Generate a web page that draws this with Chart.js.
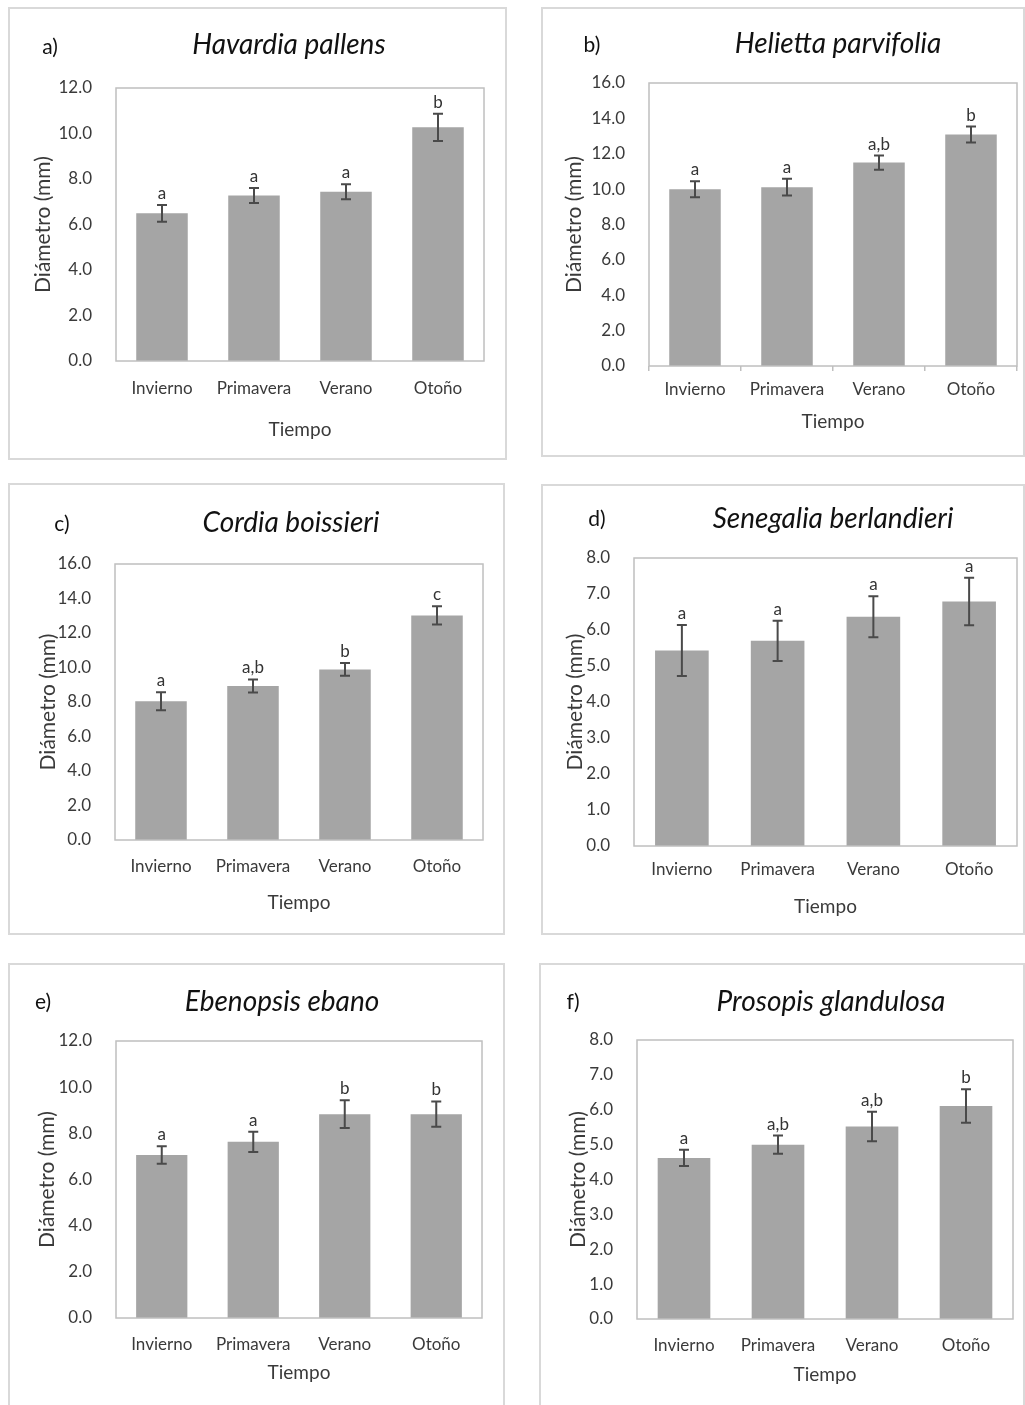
<!DOCTYPE html>
<html>
<head>
<meta charset="utf-8">
<script src="https://cdn.jsdelivr.net/npm/chart.js@4.4.1/dist/chart.umd.min.js"></script>
<style>
  body { margin: 0; width: 1025px; height: 1405px; overflow: hidden; background: #fff; position: relative; font-family: Lato, sans-serif; }
  .frame { position: absolute; border: 2px solid #d9d9d9; box-sizing: border-box; }
  canvas { position: absolute; }
  .tag, .species { position: absolute; transform: translate(-50%, -50%); white-space: nowrap; color: #111; }
  .tag { font-size: 21px; }
  .species { font-size: 28px; font-style: italic; }
</style>
</head>
<body>
<script>
// ── DATA ──────────────────────────────────────────────────────
const seasons = ['Invierno', 'Primavera', 'Verano', 'Otoño'];

const ticks12 = [0, 2, 4, 6, 8, 10, 12];
const ticks16 = [0, 2, 4, 6, 8, 10, 12, 14, 16];
const ticks8  = [0, 1, 2, 3, 4, 5, 6, 7, 8];

const havardiaMeans   = [6.49, 7.27, 7.44, 10.27];
const havardiaErr     = [0.37, 0.33, 0.33, 0.60];
const havardiaLetters = ['a', 'a', 'a', 'b'];

const heliettaMeans   = [9.99, 10.11, 11.50, 13.09];
const heliettaErr     = [0.45, 0.47, 0.40, 0.45];
const heliettaLetters = ['a', 'a', 'a,b', 'b'];

const cordiaMeans   = [8.04, 8.93, 9.89, 13.02];
const cordiaErr     = [0.52, 0.38, 0.37, 0.53];
const cordiaLetters = ['a', 'a,b', 'b', 'c'];

const senegaliaMeans   = [5.43, 5.70, 6.37, 6.79];
const senegaliaErr     = [0.71, 0.56, 0.57, 0.66];
const senegaliaLetters = ['a', 'a', 'a', 'a'];

const ebenopsisMeans   = [7.06, 7.63, 8.83, 8.83];
const ebenopsisErr     = [0.38, 0.44, 0.60, 0.55];
const ebenopsisLetters = ['a', 'a', 'b', 'b'];

const prosopisMeans   = [4.62, 5.00, 5.52, 6.11];
const prosopisErr     = [0.23, 0.26, 0.42, 0.48];
const prosopisLetters = ['a', 'a,b', 'a,b', 'b'];

// ── LAYOUT ────────────────────────────────────────────────────
const panels = [
  { tag: 'a)', name: 'Havardia pallens', means: havardiaMeans, err: havardiaErr, letters: havardiaLetters, ticks: ticks12,
    box: [8, 7, 499, 453], plot: [116, 88, 484, 361], tagAt: [50, 45], nameAt: [289, 43], yTitleX: 43, xTitleY: 430, tickPad: 9 },
  { tag: 'b)', name: 'Helietta parvifolia', means: heliettaMeans, err: heliettaErr, letters: heliettaLetters, ticks: ticks16,
    box: [541, 7, 484, 450], plot: [649, 83, 1017, 366], tagAt: [592, 43], nameAt: [838, 42], yTitleX: 574, xTitleY: 422, tickPad: 8, tickMarks: true },
  { tag: 'c)', name: 'Cordia boissieri', means: cordiaMeans, err: cordiaErr, letters: cordiaLetters, ticks: ticks16,
    box: [8, 483, 497, 452], plot: [115, 564, 483, 840], tagAt: [62, 522], nameAt: [291, 521], yTitleX: 48, xTitleY: 903, tickPad: 8 },
  { tag: 'd)', name: 'Senegalia berlandieri', means: senegaliaMeans, err: senegaliaErr, letters: senegaliaLetters, ticks: ticks8,
    box: [541, 484, 484, 451], plot: [634, 558, 1017, 846], tagAt: [597, 517], nameAt: [833, 517], yTitleX: 575, xTitleY: 907, tickPad: 5 },
  { tag: 'e)', name: 'Ebenopsis ebano', means: ebenopsisMeans, err: ebenopsisErr, letters: ebenopsisLetters, ticks: ticks12,
    box: [8, 963, 497, 460], plot: [116, 1041, 482, 1318], tagAt: [43, 1000], nameAt: [282, 1000], yTitleX: 47, xTitleY: 1373, tickPad: 8 },
  { tag: 'f)', name: 'Prosopis glandulosa', means: prosopisMeans, err: prosopisErr, letters: prosopisLetters, ticks: ticks8,
    box: [539, 963, 486, 460], plot: [637, 1040, 1013, 1319], tagAt: [573, 1000], nameAt: [831, 1000], yTitleX: 578, xTitleY: 1375, tickPad: 8 }
];

const TEXT = '#3a3a3a';
const X_TITLE = 19, Y_TITLE = 21;

Chart.defaults.font.family = 'Lato, sans-serif';

// plot frame, error bars and letters
const errorBars = {
  id: 'errorBars',
  afterDatasetsDraw(chart, args, opts) {
    const { ctx, chartArea: a, scales: { y } } = chart;
    ctx.save();
    ctx.strokeStyle = '#bfbfbf';
    ctx.lineWidth = 1.5;
    ctx.strokeRect(a.left, a.top, a.right - a.left, a.bottom - a.top);

    const values = chart.data.datasets[0].data;
    ctx.strokeStyle = '#4a4a4a';
    ctx.lineWidth = 2;
    ctx.fillStyle = '#333';
    ctx.font = '17px Lato, sans-serif';
    ctx.textAlign = 'center';
    ctx.textBaseline = 'alphabetic';
    chart.getDatasetMeta(0).data.forEach((bar, i) => {
      const top = y.getPixelForValue(values[i] + opts.err[i]);
      const bot = y.getPixelForValue(values[i] - opts.err[i]);
      ctx.beginPath();
      ctx.moveTo(bar.x, top); ctx.lineTo(bar.x, bot);
      ctx.moveTo(bar.x - 5, top); ctx.lineTo(bar.x + 5, top);
      ctx.moveTo(bar.x - 5, bot); ctx.lineTo(bar.x + 5, bot);
      ctx.stroke();
      ctx.fillText(opts.letters[i], bar.x, top - 6);
    });
    ctx.restore();
  }
};

function addText(cls, text, at) {
  const el = document.createElement('div');
  el.className = cls;
  el.textContent = text;
  el.style.left = at[0] + 'px';
  el.style.top = at[1] + 'px';
  document.body.appendChild(el);
}

panels.forEach(p => {
  const [bx, by, bw, bh] = p.box;
  const [pl, pt, pr, pb] = p.plot;

  const frame = document.createElement('div');
  frame.className = 'frame';
  Object.assign(frame.style, { left: bx + 'px', top: by + 'px', width: bw + 'px', height: bh + 'px' });
  document.body.appendChild(frame);

  const canvas = document.createElement('canvas');
  canvas.width = bw; canvas.height = bh;
  Object.assign(canvas.style, { left: bx + 'px', top: by + 'px', width: bw + 'px', height: bh + 'px' });
  document.body.appendChild(canvas);

  addText('tag', p.tag, p.tagAt);
  addText('species', p.name, p.nameAt);

  const xAxisH = (p.xTitleY - pb) + X_TITLE * 1.2 / 2;
  const yAxisW = pl - bx;

  new Chart(canvas, {
    type: 'bar',
    data: {
      labels: seasons,
      datasets: [{
        data: p.means,
        backgroundColor: '#a5a5a5',
        barPercentage: 0.56,
        categoryPercentage: 1
      }]
    },
    options: {
      responsive: false,
      animation: false,
      layout: { padding: { left: 0, top: pt - by, right: bx + bw - pr, bottom: by + bh - pb - xAxisH } },
      plugins: {
        legend: { display: false },
        tooltip: { enabled: false },
        errorBars: { err: p.err, letters: p.letters }
      },
      scales: {
        x: {
          grid: p.tickMarks
            ? { display: true, offset: true, drawOnChartArea: false, drawTicks: true, tickLength: 5, color: '#bfbfbf', lineWidth: 1.5 }
            : { display: false },
          border: { display: false },
          ticks: { color: TEXT, font: { size: 17 }, padding: p.tickPad, maxRotation: 0 },
          title: { display: true, text: 'Tiempo', color: TEXT, font: { size: X_TITLE }, padding: 0 },
          afterFit: s => { s.height = xAxisH; }
        },
        y: {
          min: p.ticks[0],
          max: p.ticks[p.ticks.length - 1],
          grid: { display: false },
          border: { display: false },
          ticks: { stepSize: p.ticks[1] - p.ticks[0], color: TEXT, font: { size: 17 }, padding: 16,
                   callback: v => v.toFixed(1) },
          title: { display: true, text: 'Diámetro (mm)', color: TEXT, font: { size: Y_TITLE },
                   padding: { top: p.yTitleX - bx - Y_TITLE * 0.6, bottom: 0 } },
          afterFit: s => { s.width = yAxisW; }
        }
      }
    },
    plugins: [errorBars]
  });
});
</script>
</body>
</html>
